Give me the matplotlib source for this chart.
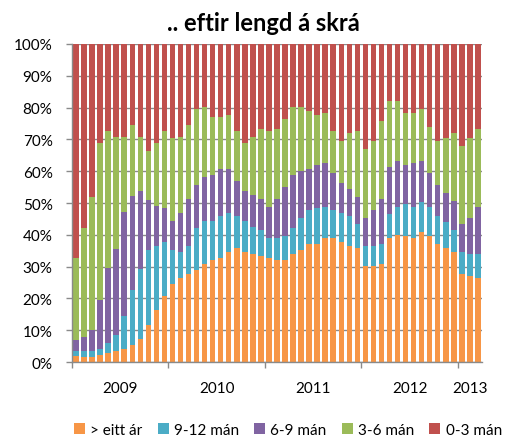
import matplotlib.pyplot as plt
import numpy as np

# monthly shares (%), Jan 2009 - Mar 2013
over_1yr = [2.0, 1.5, 1.5, 2.2, 2.8, 3.4, 4.0, 5.3, 7.1, 11.6, 16.5, 20.9,
            24.6, 26.5, 27.7, 29.0, 30.8, 32.0, 32.7, 34.6, 35.8, 34.6, 33.9, 33.3,
            32.7, 32.0, 32.0, 33.9, 35.2, 37.1, 37.1, 39.0, 39.0, 37.7, 36.4, 35.8,
            30.3, 30.3, 30.8, 39.0, 40.1, 39.6, 39.0, 40.8, 39.6, 37.1, 35.8, 34.6,
            27.7, 27.1, 26.5]
m9_12 = [1.4, 1.9, 1.9, 1.8, 3.1, 5.0, 10.6, 17.5, 22.0, 23.6, 19.9, 16.9,
         10.6, 8.1, 8.7, 13.0, 13.7, 12.5, 13.1, 12.4, 10.0, 9.9, 8.7, 8.1,
         6.3, 7.0, 7.6, 8.1, 10.0, 10.6, 11.2, 9.9, 8.7, 9.3, 9.4, 7.5,
         6.1, 6.1, 6.3, 7.4, 8.8, 10.0, 9.9, 9.4, 9.3, 8.7, 8.1, 6.8,
         6.9, 6.8, 7.4]
m6_9 = [3.6, 4.4, 6.8, 15.6, 23.6, 27.3, 32.6, 29.3, 24.8, 15.6, 12.6, 10.5,
        9.3, 12.4, 15.0, 13.8, 13.7, 14.3, 14.9, 13.7, 11.1, 9.3, 10.0, 10.0,
        9.9, 12.4, 15.5, 16.8, 14.9, 13.0, 13.7, 13.7, 11.8, 9.3, 8.7, 8.7,
        8.8, 11.3, 14.3, 14.9, 14.3, 12.4, 13.7, 13.0, 10.6, 10.0, 9.4, 9.3,
        8.7, 11.3, 15.0]
m3_6 = [25.8, 34.2, 41.8, 49.4, 43.2, 35.2, 23.7, 22.5, 17.0, 15.7, 20.0, 24.4,
        25.8, 23.9, 23.2, 23.7, 21.9, 18.2, 16.3, 16.9, 15.8, 15.2, 18.3, 21.9,
        23.8, 21.9, 21.3, 21.3, 20.0, 18.2, 15.6, 15.7, 13.2, 13.3, 17.6, 20.7,
        21.9, 21.9, 24.4, 20.7, 18.8, 16.3, 15.7, 16.3, 14.5, 13.8, 17.0, 21.4,
        24.5, 25.1, 24.4]
m0_3 = [67.2, 58.0, 48.0, 31.0, 27.3, 29.1, 29.1, 25.4, 29.1, 33.5, 31.0, 27.3,
        29.7, 29.1, 25.4, 20.5, 19.9, 23.0, 23.0, 22.4, 27.3, 31.0, 29.1, 26.7,
        27.3, 26.7, 23.6, 19.9, 19.9, 21.1, 22.4, 21.7, 27.3, 30.4, 27.9, 27.3,
        32.9, 30.4, 24.2, 18.0, 18.0, 21.7, 21.7, 20.5, 26.0, 30.4, 29.7, 27.9,
        32.2, 29.7, 26.7]

series = [("> eitt ár", over_1yr, "#F79646"),
          ("9-12 mán", m9_12, "#4BACC6"),
          ("6-9 mán", m6_9, "#8064A2"),
          ("3-6 mán", m3_6, "#9BBB59"),
          ("0-3 mán", m0_3, "#C0504D")]
years = ["2009", "2010", "2011", "2012", "2013"]
months_per_year = [12, 12, 12, 12, 3]

plt.rcParams["font.family"] = ["Lato", "DejaVu Sans"]

fig = plt.figure(figsize=(5.08, 4.39), dpi=100)
ax = fig.add_axes([0.1417, 0.173, 0.807, 0.7245])

x = np.arange(len(over_1yr))
bottom = np.zeros(len(x))
for label, vals, color in series:
    ax.bar(x, vals, bottom=bottom, width=0.68, color=color, label=label, zorder=2)
    bottom += np.array(vals)

ax.set_xlim(-0.5, len(x) - 0.5)
ax.set_ylim(0, 100)
ax.set_yticks(np.arange(0, 101, 10))
ax.set_yticklabels([f"{v}%" for v in range(0, 101, 10)], fontsize=11)
ax.yaxis.grid(True, color="#8a8a8a", linewidth=1.0, zorder=0)
ax.set_axisbelow(True)

# year boundaries as major ticks, year names centred as minor ticks
edges = np.cumsum([0] + months_per_year) - 0.5
ax.set_xticks(edges[:-1])
ax.set_xticklabels([])
centers = (edges[:-1] + edges[1:]) / 2
ax.set_xticks(centers, minor=True)
ax.set_xticklabels(years, minor=True, fontsize=11)
ax.tick_params(axis="x", which="major", length=4, color="#8a8a8a", width=1.0)
ax.tick_params(axis="x", which="minor", length=0, pad=14)
ax.tick_params(axis="y", length=4, color="#8a8a8a", width=1.0, pad=10)

for side in ["top", "right"]:
    ax.spines[side].set_visible(False)
for side in ["left", "bottom"]:
    ax.spines[side].set_color("#8a8a8a")
    ax.spines[side].set_linewidth(1.0)

fig.text(0.518, 0.947, ".. eftir lengd á skrá", ha="center", va="center",
         fontsize=17, fontweight="bold")

fig.legend(loc="center", bbox_to_anchor=(0.567, 0.018), ncol=5, frameon=False,
           fontsize=11, handlelength=0.7, handleheight=0.7, handletextpad=0.35,
           columnspacing=1.0)

fig.savefig("out.png", dpi=100)
